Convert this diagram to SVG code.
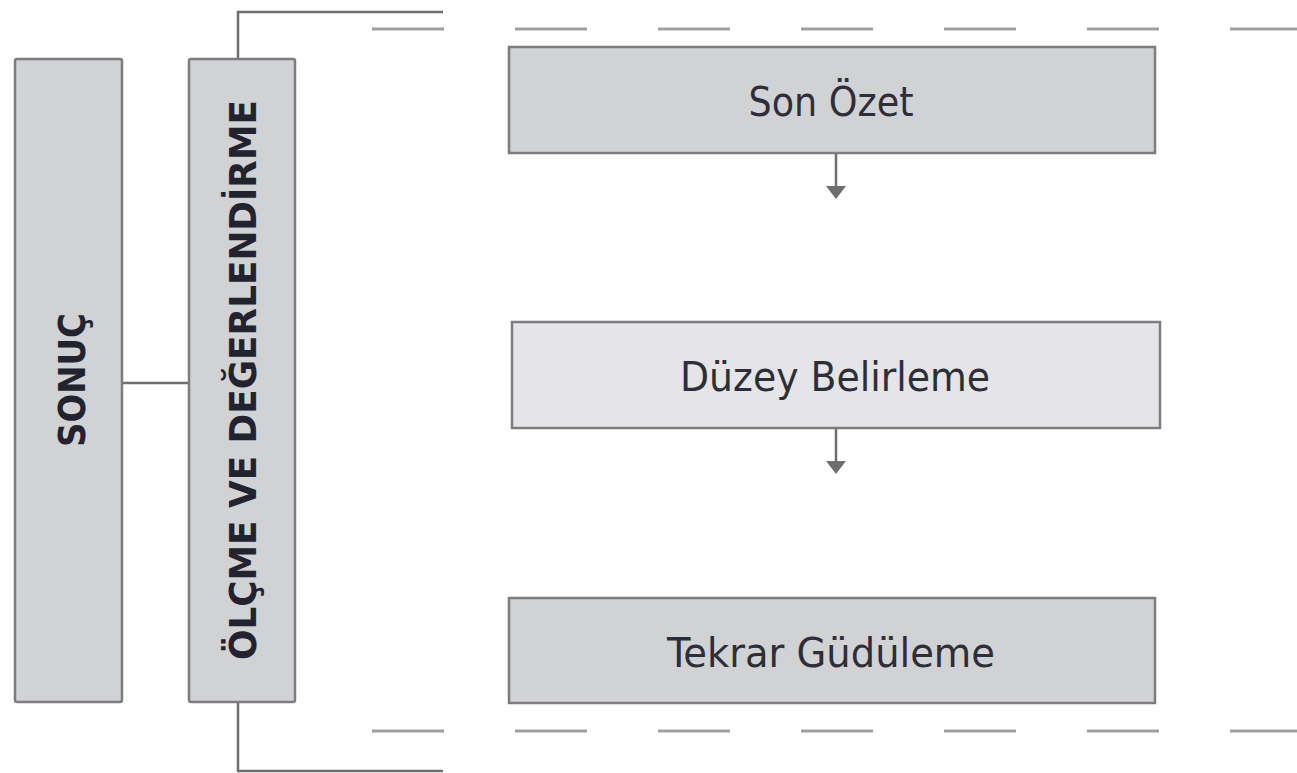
<svg xmlns="http://www.w3.org/2000/svg" width="1297" height="773" viewBox="0 0 1297 773">
<defs>
<style>
.box{fill:#d1d2d4;stroke:#7d7d7f;stroke-width:2.5}
.light{fill:#e5e5e7}
.lbl{font-family:"DejaVu Sans Condensed","DejaVu Sans",sans-serif;font-size:40px;fill:#2e2e38;text-anchor:middle}
.vlbl{font-family:"DejaVu Sans Condensed","DejaVu Sans",sans-serif;font-weight:bold;font-size:38px;fill:#232330;text-anchor:middle}
.ln{stroke:#6e6e70;stroke-width:2.5;fill:none}
.dash{stroke:#a0a0a2;stroke-width:3;fill:none;stroke-dasharray:72 71}
</style>
</defs>
<rect width="1297" height="773" fill="#ffffff"/>
<g id="connectors">
<path class="ln" d="M238,59 V12 H443"/>
<path class="ln" d="M238,702 V771 H443"/>
<path class="ln" d="M122,383 H189"/>
<path class="dash" d="M372,29 H1297"/>
<path class="dash" d="M372,731 H1297"/>
<path class="ln" d="M836,153 V186"/>
<path d="M826,186 L846,186 L836,199 z" fill="#6e6e70"/>
<path class="ln" d="M836,428 V461"/>
<path d="M826,461 L846,461 L836,474 z" fill="#6e6e70"/>
</g>
<g id="sonuc">
<rect class="box" x="15" y="59" width="107" height="643" rx="2"/>
<text class="vlbl" transform="translate(85,380) rotate(-90)" textLength="134" lengthAdjust="spacingAndGlyphs">SONUÇ</text>
</g>
<g id="olcme">
<rect class="box" x="189" y="59" width="106" height="643" rx="2"/>
<text class="vlbl" transform="translate(256,380) rotate(-90)" textLength="560" lengthAdjust="spacingAndGlyphs">ÖLÇME VE DEĞERLENDİRME</text>
</g>
<g id="son-ozet">
<rect class="box" x="509" y="47" width="646" height="106"/>
<text class="lbl" x="831" y="116" textLength="165" lengthAdjust="spacingAndGlyphs">Son Özet</text>
</g>
<g id="duzey">
<rect class="box light" x="512" y="322" width="648" height="106"/>
<text class="lbl" x="835" y="391" textLength="310" lengthAdjust="spacingAndGlyphs">Düzey Belirleme</text>
</g>
<g id="tekrar">
<rect class="box" x="509" y="598" width="646" height="105"/>
<text class="lbl" x="831" y="667" textLength="328" lengthAdjust="spacingAndGlyphs">Tekrar Güdüleme</text>
</g>
</svg>
